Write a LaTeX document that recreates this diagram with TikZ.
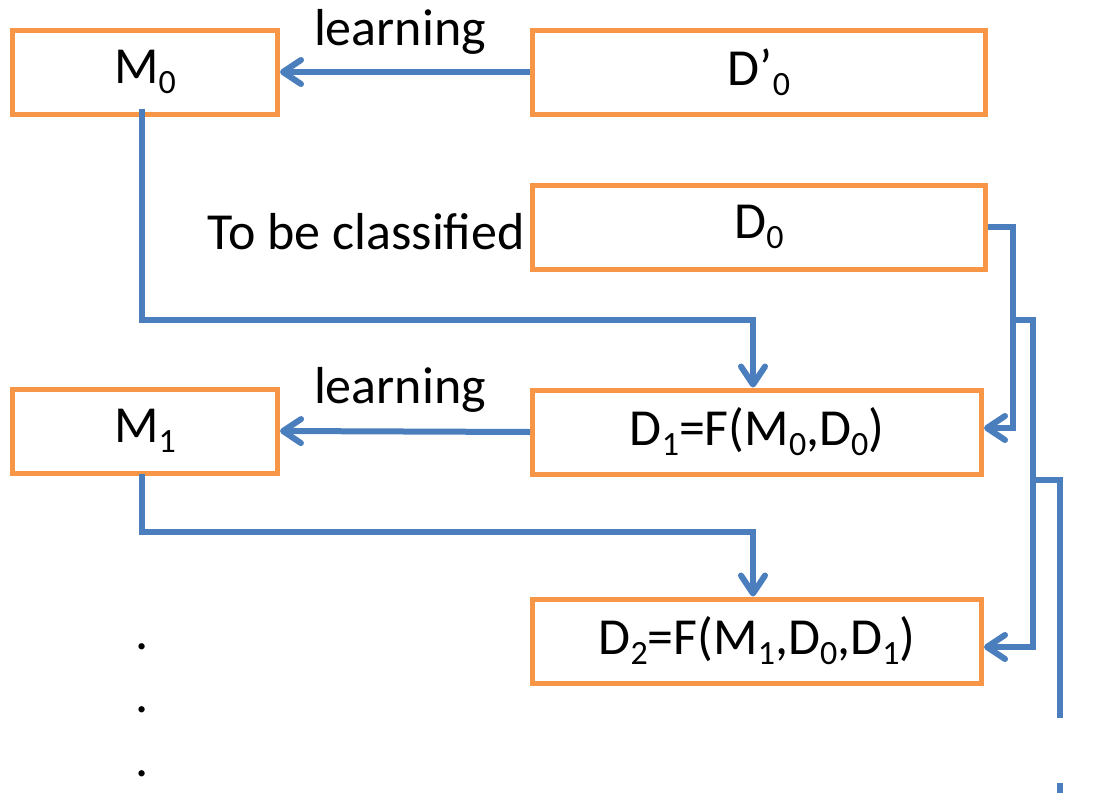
\documentclass[tikz,border=0pt]{standalone}
\usepackage{fontspec}
\setmainfont{Carlito}
\usetikzlibrary{arrows.meta}
\newcommand{\sub}[1]{\raisebox{-10pt}{\fontsize{34}{34}\selectfont #1}}
\begin{document}
\begin{tikzpicture}[x=1pt,y=-1pt,
    box/.style={draw=boxcolor, line width=5pt, minimum width=265pt, minimum height=84pt, inner sep=0pt},
    wide/.style={box, minimum width=453pt},
    flow/.style={draw=flowcolor, line width=6pt},
    flowarrow/.style={flow, -{Straight Barb[length=18pt, width=24pt, line cap=round, line join=round]}},
    txt/.style={font=\fontsize{52}{62}\selectfont, inner sep=0pt}]
    % Define colors
    \definecolor{boxcolor}{RGB}{247,150,70}
    \definecolor{flowcolor}{RGB}{74,126,189}
    \useasboundingbox (0,0) rectangle (1120,793);

    % Models
    \node[box, txt] (m0) at (145,72) {M\sub{0}};
    \node[box, txt] (m1) at (145,431) {M\sub{1}};

    % Data sets
    \node[wide, txt] (dp0) at (759,72) {D’\sub{0}};
    \node[wide, txt] (d0) at (759,227) {D\sub{0}};
    \node[wide, txt, minimum width=449pt] (d1) at (757,432) {D\sub{1}=F(M\sub{0},D\sub{0})};
    \node[wide, txt, minimum width=449pt] (d2) at (757,641) {D\sub{2}=F(M\sub{1},D\sub{0},D\sub{1})};

    % Labels
    \node[txt] (l0) at (400,32) {learning};
    \node[txt] (l1) at (400,390) {learning};
    \node[txt, anchor=east] (tbc) at (525,232) {To be classified};

    % Learning arrows
    \draw[flowarrow] (dp0.west) -- (m0.east);
    \draw[flowarrow] (d1.west) -- (m1.east);

    % Models applied to the next data set
    \draw[flowarrow] ([xshift=-3,yshift=8]m0.south) -- ([xshift=-3]m0.south |- 0,320) -- ([xshift=-4]d1.north |- 0,320) -- ([xshift=-4]d1.north);
    \draw[flowarrow] ([xshift=-3,yshift=2]m1.south) -- ([xshift=-3]m1.south |- 0,532) -- ([xshift=-4]d2.north |- 0,532) -- ([xshift=-4]d2.north);

    % Feedback of D0 on the right side
    \coordinate (b0) at (1013,227);
    \coordinate (b1) at (1013,320);
    \coordinate (b2) at (1033,480);
    \coordinate (e2) at (1060,718);
    \coordinate (t0) at (1060,783);
    \coordinate (t1) at (1060,793);
    \draw[flowarrow] (d0.east) -- (b0) |- ([yshift=4]d1.east);
    \draw[flowarrow] (b1) -- (b1 -| b2) |- ([yshift=-6]d2.east);
    \draw[flow] (b2) -- (b2 -| e2) -- (e2);
    \draw[flow] (t0) -- (t1);

    % Dots
    \node[txt, anchor=base] (dot0) at (142,649) {.};
    \node[txt, anchor=base] (dot1) at (142,712) {.};
    \node[txt, anchor=base] (dot2) at (142,776) {.};
\end{tikzpicture}
\end{document}
